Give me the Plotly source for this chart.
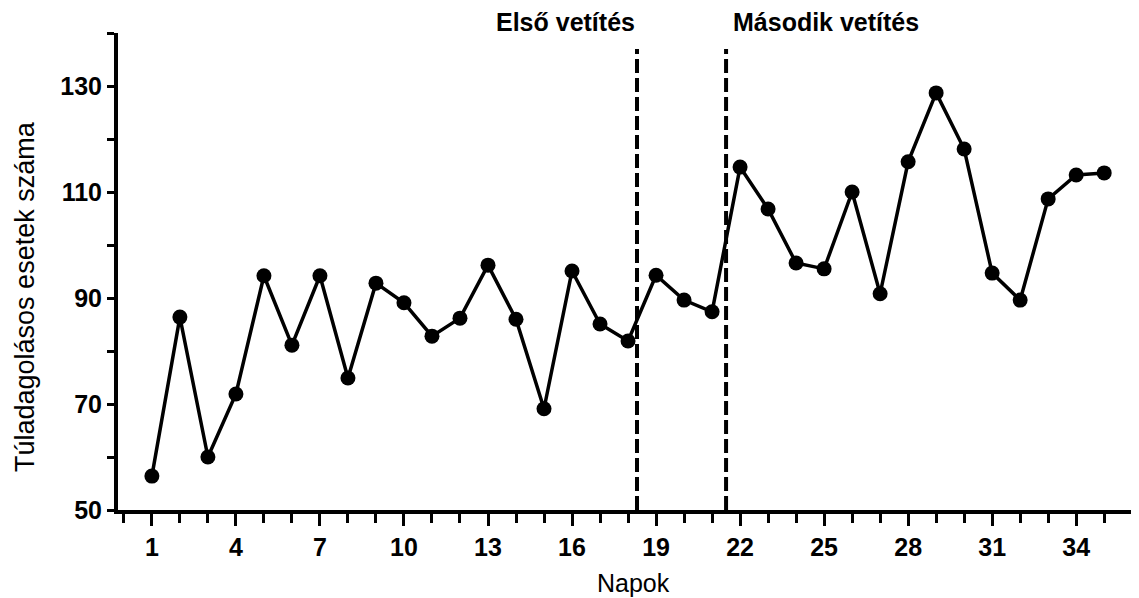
import plotly.graph_objects as go

days = list(range(1, 36))
cases = [56.4, 86.4, 60.0, 71.9, 94.2, 81.1, 94.2, 74.9, 92.8, 89.1,
         82.8, 86.2, 96.2, 86.0, 69.1, 95.1, 85.1, 81.9, 94.3, 89.6,
         87.4, 114.7, 106.8, 96.6, 95.5, 110.0, 90.8, 115.7, 128.7, 118.1,
         94.7, 89.6, 108.7, 113.2, 113.6]
x_tickvals = [1, 4, 7, 10, 13, 16, 19, 22, 25, 28, 31, 34]
y_tickvals = [50, 70, 90, 110, 130]
screenings = [18.32, 21.5]
screening_labels = ["Első vetítés", "Második vetítés"]
x_title = "Napok"
y_title = "Túladagolásos esetek száma"

FONT = "Liberation Sans, Arial, sans-serif"
OFF = 8  # default page body margin
W, H = 1139 - OFF, 598 - OFF
L, T = 118 - OFF, 33 - OFF
R = W - (1135 - OFF)
B = H - (510 - OFF)
pw, ph = W - L - R, H - T - B

def px_x(x):
    return (x - OFF - L) / pw

def px_y(y):
    return (H - B - (y - OFF)) / ph

fig = go.Figure()
fig.add_trace(go.Scatter(
    x=days, y=cases, mode="lines+markers",
    line=dict(color="black", width=3.5),
    marker=dict(color="black", size=15),
    showlegend=False, cliponaxis=False,
))

for xv in screenings:
    fig.add_shape(type="line", xref="x", yref="y", x0=xv, x1=xv, y0=50, y1=137,
                  line=dict(color="black", width=4, dash="14px,5px"))

fig.add_annotation(x=screenings[0], y=px_y(22), xref="x", yref="paper", yanchor="middle",
                   xanchor="right", xshift=0, text="<b>" + screening_labels[0] + "</b>",
                   showarrow=False, font=dict(family=FONT, size=25, color="black"))
fig.add_annotation(x=screenings[1], y=px_y(22), xref="x", yref="paper", yanchor="middle",
                   xanchor="left", xshift=5, text="<b>" + screening_labels[1] + "</b>",
                   showarrow=False, font=dict(family=FONT, size=25, color="black"))

fig.add_annotation(x=px_x(633), y=px_y(583), xref="paper", yref="paper",
                   xanchor="center", yanchor="middle", text=x_title, showarrow=False,
                   font=dict(family=FONT, size=25, color="black"))
fig.add_annotation(x=px_x(25), y=px_y(297), xref="paper", yref="paper",
                   xanchor="center", yanchor="middle", text=y_title, showarrow=False,
                   textangle=-90, font=dict(family=FONT, size=27, color="black"))

fig.update_layout(
    width=W, height=H,
    margin=dict(l=L, r=R, t=T, b=B, pad=0),
    paper_bgcolor="white", plot_bgcolor="white",
    font=dict(family=FONT, color="black"),
    xaxis=dict(
        range=[-0.21, 36.1], tickmode="array", tickvals=x_tickvals,
        ticktext=["<b>%d</b>" % v for v in x_tickvals],
        ticks="outside", ticklen=12, tickwidth=3, tickcolor="black",
        minor=dict(dtick=1, tick0=0, ticks="outside", ticklen=9, tickwidth=3, tickcolor="black"),
        showline=True, linecolor="black", linewidth=4, showgrid=False, zeroline=False,
        tickfont=dict(size=25, family=FONT), automargin=False,
    ),
    yaxis=dict(
        range=[50, 140], tickmode="array", tickvals=y_tickvals,
        ticktext=["<b>%d</b>" % v for v in y_tickvals],
        ticks="outside", ticklen=7, tickwidth=3, tickcolor="black",
        minor=dict(dtick=10, tick0=0, ticks="outside", ticklen=7, tickwidth=3, tickcolor="black"),
        showline=True, linecolor="black", linewidth=4, showgrid=False, zeroline=False,
        tickfont=dict(size=25, family=FONT), automargin=False,
    ),
)

fig.write_html("out.html")
